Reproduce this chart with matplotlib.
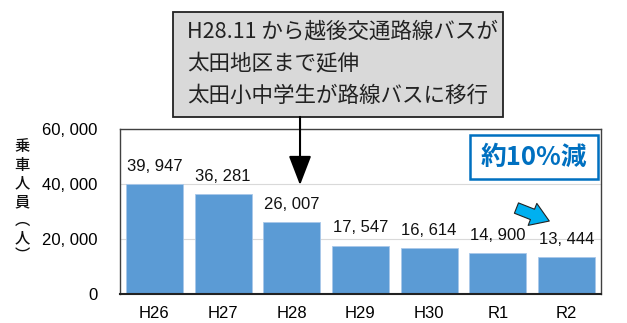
import matplotlib
matplotlib.use('Agg')
import matplotlib.pyplot as plt
from matplotlib.patches import FancyArrowPatch, Rectangle

plt.rcParams['font.family'] = ['Noto Sans CJK JP', 'DejaVu Sans']

years = ['H26', 'H27', 'H28', 'H29', 'H30', 'R1', 'R2']
riders = [39947, 36281, 26007, 17547, 16614, 14900, 13444]
yticks = [0, 20000, 40000, 60000]
note_lines = ['H28.11 から越後交通路線バスが', '太田地区まで延伸', '太田小中学生が路線バスに移行']
badge = '約10%減'

num_font = ['Liberation Sans', 'DejaVu Sans']


def comma(v):
    return f'{v:,}'.replace(',', ', ')


fig = plt.figure(figsize=(6.27, 3.23), dpi=100)
ax = fig.add_axes([0.1914, 0.0898, 0.767, 0.5108])

x = range(len(years))
ax.bar(x, riders, width=0.83, color='#5B9BD5', edgecolor='#A9C8EA', linewidth=0.6, zorder=2)
for i, v in enumerate(riders):
    ax.annotate(comma(v), (i, v), xytext=(0, 7.5), textcoords='offset points',
                ha='center', va='bottom', fontsize=12, family=num_font, color='#111111')

ax.set_xlim(-0.5, len(years) - 0.5)
ax.set_ylim(0, 60000)
ax.set_yticks(yticks)
ax.set_yticklabels([comma(t) for t in yticks], family=num_font, fontsize=12)
ax.set_xticks(list(x))
ax.set_xticklabels(years, family=num_font, fontsize=12)
ax.tick_params(length=0, pad=9)
ax.tick_params(axis='y', pad=16)
ax.grid(axis='y', color='#D9D9D9', linewidth=0.8, zorder=0)
for side in ['top', 'right', 'left']:
    ax.spines[side].set_color('#404040')
    ax.spines[side].set_linewidth(1.0)
ax.spines['bottom'].set_color('#222222')
ax.spines['bottom'].set_linewidth(1.5)

# vertical axis title, one character per line
fig.text(0.035, 0.572, '乗\n車\n人\n員\n︵\n人\n︶', ha='center', va='top', fontsize=11,
         linespacing=1.1, color='#111111', fontweight='medium')

# note box above the chart
fig.patches.append(Rectangle((0.276, 0.638), 0.526, 0.325, transform=fig.transFigure,
                             facecolor='#D9D9D9', edgecolor='#222222', linewidth=1.3, zorder=1))
for k, line in enumerate(note_lines):
    fig.text(0.298, 0.901 - k * 0.099, line, ha='left', va='center', fontsize=15.5,
             color='#222222', zorder=3)

# arrow from the note down to H28
fig.patches.append(FancyArrowPatch((0.4785, 0.638), (0.4785, 0.427), transform=fig.transFigure,
                                   arrowstyle='-|>,head_width=0.5,head_length=1.3',
                                   mutation_scale=14, color='black', lw=1.5,
                                   shrinkA=0, shrinkB=0, zorder=4))

# reduction badge
ax.add_patch(Rectangle((0.728, 0.697), 0.266, 0.267, transform=ax.transAxes,
                       facecolor='white', edgecolor='#0070C0', linewidth=1.8, zorder=4))
ax.text(0.861, 0.830, badge, transform=ax.transAxes, ha='center', va='center', fontsize=18.5,
        fontweight='bold', color='#0070C0', zorder=5)

ax.add_patch(FancyArrowPatch((0.819, 0.527), (0.898, 0.436), transform=ax.transAxes,
                             arrowstyle='simple,head_width=17,head_length=13,tail_width=8',
                             facecolor='#00B0F0', edgecolor='#222222', linewidth=0.8, zorder=5))

fig.savefig('out.png', dpi=100)
